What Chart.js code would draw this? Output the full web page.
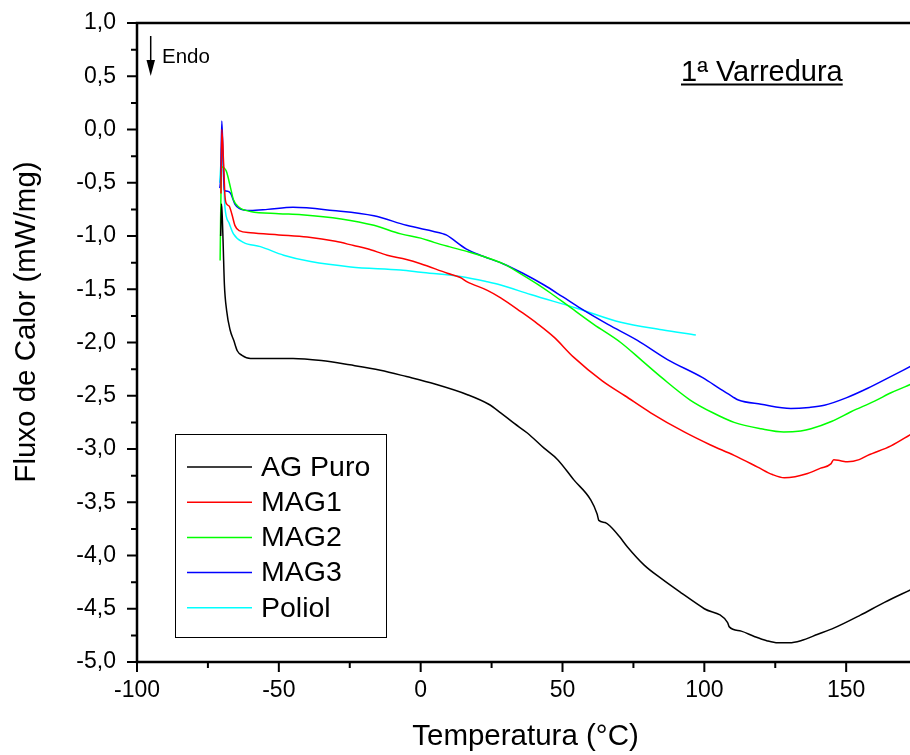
<!DOCTYPE html>
<html><head><meta charset="utf-8">
<script src="https://cdn.jsdelivr.net/npm/chart.js@4.4.0/dist/chart.umd.min.js"></script>
<style>html,body{margin:0;padding:0;background:#fff;overflow:hidden}</style>
</head><body>
<canvas id="c" width="910" height="755"></canvas>
<script>
// ---- data (temperature °C, heat flow mW/mg) ----
const seriesLabels = ['AG Puro', 'MAG1', 'MAG2', 'MAG3', 'Poliol'];
const seriesColors = ['#000000', '#ff0000', '#00ff00', '#0000ff', '#00ffff'];

const agPuro = [[-70.5,-1.0],[-70.2,-0.70],[-69.9,-0.85],[-69.6,-1.1],[-69.2,-1.45],[-68.4,-1.70],[-67.2,-1.88],[-65.9,-1.98],[-64.6,-2.08],[-63,-2.12],[-60,-2.15],[-54,-2.15],[-45,-2.15],[-35,-2.17],[-25,-2.21],[-14.2,-2.26],[-5,-2.32],[5,-2.39],[16.5,-2.49],[24,-2.58],[28.2,-2.66],[33,-2.76],[37.6,-2.85],[43.4,-2.99],[48.3,-3.10],[54,-3.29],[60,-3.48],[62.2,-3.61],[62.8,-3.67],[65,-3.69],[67,-3.73],[70,-3.82],[72.9,-3.92],[78.8,-4.09],[85,-4.22],[91.8,-4.35],[100,-4.50],[108.2,-4.63],[108.8,-4.67],[113,-4.71],[117.6,-4.76],[122,-4.80],[125.9,-4.82],[130,-4.82],[134,-4.80],[140,-4.74],[145.8,-4.68],[155,-4.56],[163.5,-4.44],[172.9,-4.32]];

const mag1 = [[-70.4,-0.6],[-70.1,0.0],[-69.5,-0.3],[-69.0,-0.62],[-68.4,-0.70],[-67.5,-0.72],[-66.5,-0.80],[-65.5,-0.90],[-64,-0.95],[-60,-0.97],[-50,-0.99],[-40,-1.01],[-30,-1.05],[-23.6,-1.09],[-18.8,-1.12],[-11.8,-1.18],[-5,-1.22],[0,-1.26],[9.4,-1.35],[14,-1.39],[16.4,-1.43],[23.5,-1.51],[28.2,-1.58],[35.3,-1.71],[41,-1.82],[47,-1.95],[54,-2.14],[64,-2.36],[72,-2.50],[81.1,-2.66],[92.9,-2.84],[102,-2.96],[110.5,-3.06],[118.8,-3.17],[124,-3.24],[128.2,-3.27],[132,-3.26],[136.4,-3.23],[141,-3.18],[144.6,-3.14],[145.6,-3.10],[148,-3.11],[150.5,-3.12],[154.6,-3.10],[157.6,-3.06],[165.8,-2.97],[172.9,-2.86]];

const mag2 = [[-70.7,-1.23],[-70.5,-0.8],[-70.2,-0.35],[-69,-0.37],[-68.4,-0.40],[-67,-0.55],[-66,-0.66],[-64,-0.73],[-60,-0.77],[-50,-0.79],[-42,-0.80],[-28,-0.84],[-16.5,-0.90],[-7,-0.98],[0,-1.02],[4.7,-1.06],[10,-1.10],[17,-1.15],[23,-1.20],[29,-1.26],[35,-1.35],[41,-1.45],[46,-1.54],[51.7,-1.65],[61,-1.83],[70.5,-2.0],[78,-2.17],[85,-2.33],[95,-2.54],[103,-2.66],[110.5,-2.75],[120,-2.81],[128,-2.84],[134,-2.83],[137.6,-2.81],[145,-2.74],[151.7,-2.65],[160,-2.55],[166,-2.47],[173,-2.39]];

const mag3 = [[-70.8,-0.55],[-70.5,-0.45],[-70.1,0.08],[-69.6,-0.3],[-69.2,-0.57],[-68,-0.58],[-67,-0.60],[-65.5,-0.70],[-64,-0.74],[-60,-0.76],[-54,-0.75],[-45,-0.73],[-31,-0.76],[-16.5,-0.81],[-5,-0.90],[8,-0.98],[9,-0.99],[16,-1.12],[22,-1.19],[29,-1.26],[36,-1.35],[43.5,-1.46],[50,-1.57],[56.4,-1.68],[66,-1.83],[76.4,-1.98],[87,-2.16],[99.4,-2.33],[105.8,-2.44],[110,-2.51],[112,-2.54],[120,-2.58],[130.5,-2.62],[137,-2.61],[142.3,-2.59],[150,-2.52],[157.6,-2.43],[165,-2.33],[173,-2.22]];

const poliol = [[-70.8,-0.5],[-70.4,-0.3],[-70.1,-0.13],[-69.5,-0.45],[-69,-0.73],[-67.5,-0.88],[-66,-0.98],[-62.5,-1.06],[-56.5,-1.10],[-48.3,-1.18],[-38.8,-1.24],[-24.7,-1.29],[-7.1,-1.32],[0,-1.34],[14,-1.38],[23.5,-1.43],[28.2,-1.46],[38.8,-1.55],[55.3,-1.68],[70.5,-1.81],[85,-1.88],[97,-1.93]];

const seriesData = [agPuro, mag1, mag2, mag3, poliol];

// axes
const xMajorTicks = [-100, -50, 0, 50, 100, 150];
const xMinorTicks = [-75, -25, 25, 75, 125];
const yMajorTicks = [1, 0.5, 0, -0.5, -1, -1.5, -2, -2.5, -3, -3.5, -4, -4.5, -5];
const yMinorTicks = [0.75, 0.25, -0.25, -0.75, -1.25, -1.75, -2.25, -2.75, -3.25, -3.75, -4.25, -4.75];
const xTitle = 'Temperatura (°C)';
const yTitle = 'Fluxo de Calor (mW/mg)';
const annotationTitle = '1ª Varredura';
const endoLabel = 'Endo';

const FONT = '"Liberation Sans", Arial, Helvetica, sans-serif';

const decor = {
  id: 'decor',
  afterDraw(chart) {
    const { ctx, chartArea: a, scales: { x, y } } = chart;
    ctx.save();
    ctx.strokeStyle = '#000';
    ctx.fillStyle = '#000';
    // axis lines
    ctx.lineWidth = 2.5;
    ctx.beginPath();
    ctx.moveTo(a.right, a.top); ctx.lineTo(a.left, a.top);
    ctx.lineTo(a.left, a.bottom); ctx.lineTo(a.right, a.bottom);
    ctx.stroke();
    // ticks
    ctx.lineWidth = 2;
    ctx.beginPath();
    xMajorTicks.forEach(v => { const p = x.getPixelForValue(v); ctx.moveTo(p, a.bottom); ctx.lineTo(p, a.bottom + 10); });
    xMinorTicks.forEach(v => { const p = x.getPixelForValue(v); ctx.moveTo(p, a.bottom); ctx.lineTo(p, a.bottom + 6); });
    yMajorTicks.forEach(v => { const p = y.getPixelForValue(v); ctx.moveTo(a.left, p); ctx.lineTo(a.left - 10, p); });
    yMinorTicks.forEach(v => { const p = y.getPixelForValue(v); ctx.moveTo(a.left, p); ctx.lineTo(a.left - 6, p); });
    ctx.stroke();

    // axis titles
    ctx.font = '29.5px ' + FONT;
    ctx.textAlign = 'center';
    ctx.textBaseline = 'middle';
    ctx.fillText(xTitle, (a.left + a.right) / 2 + 2, 737);
    ctx.save();
    ctx.translate(27, 322);
    ctx.rotate(-Math.PI / 2);
    ctx.fillText(yTitle, 0, 0);
    ctx.restore();

    // Endo arrow
    ctx.lineWidth = 1.5;
    ctx.beginPath(); ctx.moveTo(150.7, 36); ctx.lineTo(150.7, 62); ctx.stroke();
    ctx.beginPath(); ctx.moveTo(146.5, 60); ctx.lineTo(155, 60); ctx.lineTo(150.7, 76); ctx.closePath(); ctx.fill();
    ctx.font = '20.5px ' + FONT;
    ctx.textAlign = 'left';
    ctx.fillText(endoLabel, 162, 57);

    // 1ª Varredura underlined
    ctx.font = '29px ' + FONT;
    ctx.textBaseline = 'alphabetic';
    ctx.fillText(annotationTitle, 681, 81);
    const w = ctx.measureText(annotationTitle).width;
    ctx.lineWidth = 2;
    ctx.beginPath(); ctx.moveTo(681, 84.5); ctx.lineTo(681 + w, 84.5); ctx.stroke();

    // legend
    ctx.lineWidth = 1;
    ctx.strokeStyle = '#000';
    ctx.strokeRect(175.5, 434.5, 211, 203);
    ctx.font = '28.5px ' + FONT;
    ctx.textBaseline = 'middle';
    chart.data.datasets.forEach((ds, i) => {
      const yy = 467 + i * 35.2;
      ctx.strokeStyle = ds.borderColor;
      ctx.lineWidth = 1.5;
      ctx.beginPath(); ctx.moveTo(187, yy); ctx.lineTo(252, yy); ctx.stroke();
      ctx.fillStyle = '#000';
      ctx.fillText(ds.label, 261, yy + 1);
    });
    ctx.restore();
  }
};

function zeroPad(s) { s.paddingTop = 0; s.paddingBottom = 0; s.paddingLeft = 0; s.paddingRight = 0; }

new Chart(document.getElementById('c'), {
  type: 'line',
  data: {
    datasets: seriesLabels.map((lbl, i) => ({
      label: lbl,
      data: seriesData[i].map(p => ({ x: p[0], y: p[1] })),
      borderColor: seriesColors[i],
      backgroundColor: seriesColors[i],
      borderWidth: 1.5,
      pointRadius: 0,
      cubicInterpolationMode: 'monotone',
      fill: false
    }))
  },
  options: {
    responsive: false,
    animation: false,
    devicePixelRatio: 1,
    layout: { padding: { top: 23, right: 0, left: 0, bottom: 0 } },
    plugins: { legend: { display: false }, tooltip: { enabled: false } },
    scales: {
      x: {
        type: 'linear', min: -100, max: 172.5,
        grid: { display: false, drawTicks: false },
        border: { display: false },
        ticks: {
          stepSize: 50, includeBounds: false, padding: 15, color: '#000',
          font: { family: FONT, size: 23 },
          maxRotation: 0, autoSkip: false,
          callback: v => String(v)
        },
        afterFit: s => { s.height = 93; zeroPad(s); }
      },
      y: {
        type: 'linear', min: -5, max: 1,
        grid: { display: false, drawTicks: false },
        border: { display: false },
        ticks: {
          stepSize: 0.5, includeBounds: false, padding: 21, color: '#000',
          font: { family: FONT, size: 23 },
          autoSkip: false,
          callback: v => v.toFixed(1).replace('.', ',')
        },
        afterFit: s => { s.width = 137; zeroPad(s); }
      }
    }
  },
  plugins: [decor]
});
</script>
</body></html>
